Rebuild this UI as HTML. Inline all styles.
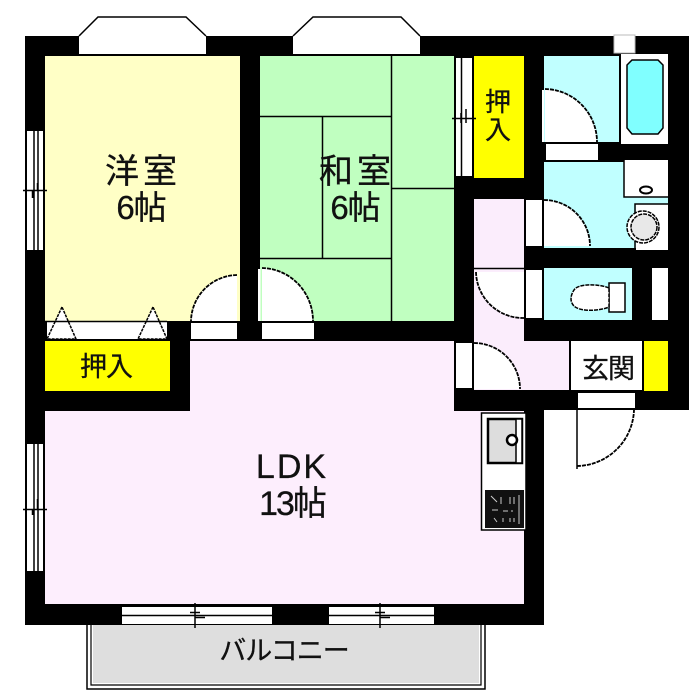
<!DOCTYPE html>
<html>
<head>
<meta charset="utf-8">
<style>
html,body{margin:0;padding:0;background:#fff;width:700px;height:700px;overflow:hidden}
svg{display:block}
text{font-family:"Liberation Sans","Noto Sans CJK JP",sans-serif;fill:#111;text-anchor:middle;stroke:#111;stroke-width:.3}
.l{fill:none;stroke:#000;stroke-width:1.5}
.a{fill:none;stroke:#000;stroke-width:1.8;stroke-dasharray:4 1}
.n{fill:#fff;stroke:none}
</style>
</head>
<body>
<svg width="700" height="700" viewBox="0 0 700 700" xmlns="http://www.w3.org/2000/svg">
<!-- balcony -->
<path d="M87 625V689H485V625" fill="#fff" stroke="#000" stroke-width="1.5"/>
<path d="M91 625V685H481V625" fill="none" stroke="#000" stroke-width="1.2"/>
<rect x="93" y="625" width="386" height="58" fill="#dedede"/>
<!-- walls -->
<path d="M25 36H689V410H544V625H25Z" fill="#000"/>
<!-- bay windows -->
<path d="M79 36L98 17H186L206 36V54H79Z" class="n"/>
<path d="M293 36L313 17H401L420 36V54H293Z" class="n"/>
<path d="M79 36L98 17H186L206 36M293 36L313 17H401L420 36" fill="none" stroke="#000" stroke-width="1.5"/>
<!-- rooms -->
<rect x="45" y="56" width="195" height="265" fill="#ffffc6"/>
<rect x="260" y="56" width="194" height="265" fill="#c0ffc0"/>
<path class="l" d="M260 116.500H391M322.500 116V258M260 258.500H391M391.500 56V321M391 188.500H454"/>
<rect x="474" y="56" width="50" height="122" fill="#ffff00"/>
<rect x="45" y="341" width="125" height="50" fill="#ffff00"/>
<rect x="644" y="341" width="24" height="50" fill="#ffff00"/>
<path d="M190 341H454V411H524V604H45V411H190Z" fill="#fdeefd"/>
<path d="M454 410H544V413H524V411H454Z" fill="#000"/>
<path d="M474 199H524V341H569V390H474Z" fill="#fbedfc"/>
<rect x="571" y="341" width="71" height="49" fill="#fff"/>
<rect x="544" y="56" width="75" height="86" fill="#c0ffff"/>
<rect x="544" y="162" width="124" height="86" fill="#c0ffff"/>
<rect x="544" y="268" width="88" height="52" fill="#c0ffff"/>
<rect x="652" y="268" width="16" height="52" fill="#fff"/>
<!-- bath -->
<rect x="621" y="54" width="47" height="90" fill="#fff"/>
<rect x="614" y="35" width="21" height="18" fill="#fff" stroke="#bbb" stroke-width="1"/>
<path d="M632 60H658L663 65V128L658 134H632L627 128V65Z" fill="#80ffff" stroke="#000" stroke-width="1.5"/>
<!-- wash -->
<rect x="624" y="160" width="44" height="37" class="n"/>
<path d="M624 160V197H668" class="l"/>
<ellipse cx="646" cy="190" rx="6" ry="3.500" fill="#fff" stroke="#000" stroke-width="2"/>
<rect x="636" y="204" width="32" height="46" class="n"/>
<path d="M635 248V204H668" class="l"/>
<circle cx="643" cy="227" r="16" fill="#fff" stroke="#000" stroke-width="1.500" stroke-dasharray="4 1"/>
<circle cx="644" cy="227" r="13" fill="#e8e8e8" stroke="#000" stroke-width="1.500" stroke-dasharray="4 1"/>
<!-- toilet -->
<rect x="609" y="283" width="16" height="29" fill="#fff" stroke="#000" stroke-width="1.5"/>
<path d="M609 288C600 284 578 283 574 290C570 296 570 302 574 306C580 312 600 311 609 307Z" fill="#fff" stroke="#000" stroke-width="1.5" stroke-dasharray="4 1"/>
<!-- doors: white wedge, arc, base -->
<path class="n" d="M237 275A47 47 0 0 0 191 321H237Z"/>
<path class="a" d="M237 275A47 47 0 0 0 191 321"/>
<rect x="191" y="323" width="46" height="16" class="n"/>

<path class="n" d="M262 268A52 53 0 0 1 313 321H262Z"/>
<path class="a" d="M262 268A52 53 0 0 1 313 321"/>
<rect x="258" y="269" width="2.500" height="52" class="n"/>
<rect x="262" y="323" width="52" height="16" class="n"/>

<path class="n" d="M545 89A53 53 0 0 1 597 142H545Z"/>
<path class="a" d="M545 89A53 53 0 0 1 597 142"/>
<rect x="542" y="90" width="2" height="52" class="n"/>
<rect x="546" y="144" width="52" height="16" class="n"/>

<path class="n" d="M544 200A46 46 0 0 1 590 246H544Z"/>
<path class="a" d="M544 200A46 46 0 0 1 590 246"/>
<rect x="526" y="200" width="16" height="46" class="n"/>

<path class="n" d="M476 272A47 47 0 0 0 524 318V272Z"/>
<path class="a" d="M476 272A47 47 0 0 0 524 318"/>
<path class="l" d="M474 268.500H524"/>
<rect x="526" y="270" width="16" height="48" class="n"/>

<path class="n" d="M474 343A46 46 0 0 1 520 389H474Z"/>
<path class="a" d="M474 343A46 46 0 0 1 520 389"/>
<rect x="456" y="343" width="16" height="45" class="n"/>

<rect x="578" y="393" width="57" height="15" class="n"/>
<path class="a" d="M577 466A58 58 0 0 0 634 410"/>
<path class="l" d="M577 405V469"/>
<!-- closet doors -->
<rect x="47" y="322" width="120" height="17" class="n"/>
<path d="M62 307L47 339H76Z" fill="#fff" stroke="#000" stroke-width="1.500" stroke-dasharray="3 1"/>
<path d="M153 307L138 339H167Z" fill="#fff" stroke="#000" stroke-width="1.500" stroke-dasharray="3 1"/>
<path class="l" d="M45 321.500H167"/>
<!-- windows -->
<rect x="27" y="131" width="16" height="119" class="n"/>
<path class="l" d="M34 131V250M38 131V250M23 190.500H47M32.500 190V198M37.500 183V191"/>
<rect x="27" y="444" width="16" height="127" class="n"/>
<path class="l" d="M34 444V571M38 444V571M23 509.500H47M32.500 509V515M37.500 499V510"/>
<rect x="456" y="58" width="16" height="118" class="n"/>
<path class="l" d="M461.500 58V176M452 118.500H476M466 109V123M461 113V123"/>
<rect x="122" y="607" width="150" height="17" class="n"/>
<path class="l" d="M122 615.500H272M195 603V628M190 612.500H200M195 617.500H205"/>
<rect x="329" y="607" width="105" height="17" class="n"/>
<path class="l" d="M329 615.500H434M380 603V628M375 612.500H385M380 617.500H390"/>
<!-- kitchen -->
<rect x="481.500" y="413" width="44.500" height="117" fill="#fff" stroke="#000" stroke-width="1.5"/>
<rect x="488" y="419" width="34" height="44" fill="#ddd" stroke="#000" stroke-width="2.500"/>
<rect x="516" y="419" width="6" height="44" fill="#fff" stroke="#000" stroke-width="1.500"/>
<circle cx="512" cy="440" r="5" fill="#fff" stroke="#000" stroke-width="2.500"/>
<rect x="485" y="490" width="39" height="38" fill="#111"/>
<path d="M491 496L497 502M501 497V504M510 497V504M514 497V504M519 495V524M492 510H498M503 511H508M512 510V512M494 518L497 522M503 518V522M510 518V522M514 518V522" stroke="#ccc" stroke-width="1" fill="none"/>
<!-- labels -->
<text x="143" y="183" font-size="34" letter-spacing="4">洋室</text>
<text x="141" y="219" font-size="33" letter-spacing="-1">6帖</text>
<text x="357" y="183" font-size="34" letter-spacing="4">和室</text>
<text x="355" y="219" font-size="33" letter-spacing="-1">6帖</text>
<text x="498" y="111" font-size="26">押</text>
<text x="498" y="139" font-size="26">入</text>
<text x="106" y="376" font-size="27" letter-spacing="-1">押入</text>
<text x="608" y="378" font-size="27" letter-spacing="-1">玄関</text>
<text x="292" y="478" font-size="34" letter-spacing="2">LDK</text>
<text x="292" y="515" font-size="34" letter-spacing="-2">13帖</text>
<text x="284" y="660" font-size="27" letter-spacing="-1">バルコニー</text>
</svg>
</body>
</html>
